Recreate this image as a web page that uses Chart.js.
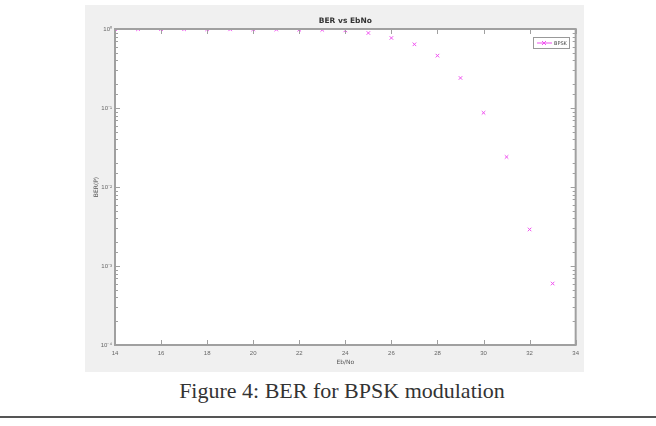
<!DOCTYPE html>
<html>
<head>
<meta charset="utf-8">
<script src="https://cdn.jsdelivr.net/npm/chart.js@4/dist/chart.umd.min.js"></script>
<style>
  body { margin: 0; background: #fff; width: 656px; height: 426px; position: relative; overflow: hidden; }
  #fig { position: absolute; left: 85px; top: 5px; width: 499px; height: 367px; background: #f0f0f0; }
  #caption { position: absolute; left: 0; width: 684px; top: 378px; text-align: center;
    font-family: "Liberation Serif", "DejaVu Serif", serif; font-size: 22px; color: #333; }
  #rule { position: absolute; left: 0; top: 416px; width: 656px; height: 2px; background: #555; }
</style>
</head>
<body>
<div id="fig"><canvas id="berChart" width="499" height="367"></canvas></div>
<div id="caption">Figure 4: BER for BPSK modulation</div>
<div id="rule"></div>
<script>
// Data grafik
const ebno = [14, 15, 16, 17, 18, 19, 20, 21, 22, 23, 24, 25, 26, 27, 28, 29, 30, 31, 32, 33];
const berBpsk = [0.995, 0.995, 0.994, 0.993, 0.992, 0.99, 0.988, 0.985, 0.98, 0.975, 0.96,
                 0.89, 0.77, 0.64, 0.46, 0.24, 0.087, 0.024, 0.0029, 0.0006];
const xTicks = [14, 16, 18, 20, 22, 24, 26, 28, 30, 32, 34];
const yTickLabels = { 1: '10⁰', 0.1: '10⁻¹', 0.01: '10⁻²', 0.001: '10⁻³', 0.0001: '10⁻⁴' };

const magenta = '#f050f0';
const axisGray = '#a0a0a0';

// kotak, tick ke dalam, judul, legend
const matlabLook = {
    id: 'matlabLook',
    beforeDraw(chart) {
        const { ctx, chartArea: a } = chart;
        ctx.save();
        ctx.fillStyle = '#fff';
        ctx.fillRect(a.left, a.top, a.right - a.left, a.bottom - a.top);
        ctx.restore();
    },
    afterDraw(chart) {
        const { ctx, chartArea: a, scales } = chart;
        ctx.save();
        ctx.strokeStyle = axisGray;
        ctx.lineWidth = 1;
        ctx.beginPath();
        scales.x.ticks.forEach(t => {
            const px = Math.round(scales.x.getPixelForValue(t.value)) + 0.5;
            ctx.moveTo(px, a.bottom); ctx.lineTo(px, a.bottom - 5);
            ctx.moveTo(px, a.top); ctx.lineTo(px, a.top + 5);
        });
        scales.y.ticks.forEach(t => {
            const py = Math.round(scales.y.getPixelForValue(t.value)) + 0.5;
            const major = yTickLabels[t.value] !== undefined;
            const len = major ? 5 : 3;
            ctx.moveTo(a.left, py); ctx.lineTo(a.left + len, py);
            ctx.moveTo(a.right, py); ctx.lineTo(a.right - len, py);
        });
        ctx.stroke();
        ctx.lineWidth = 2;
        ctx.strokeRect(a.left, a.top, a.right - a.left, a.bottom - a.top);

        // judul
        const cx = (a.left + a.right) / 2;
        ctx.fillStyle = '#333';
        ctx.font = 'bold 7.5px "DejaVu Sans", sans-serif';
        ctx.textAlign = 'center';
        ctx.textBaseline = 'middle';
        ctx.fillText('BER vs EbNo', cx, 16);
        // label sumbu
        ctx.font = '6px "DejaVu Sans", sans-serif';
        ctx.fillStyle = '#555';
        ctx.fillText('Eb/No', cx, 357);
        ctx.save();
        ctx.translate(11, 182);
        ctx.rotate(-Math.PI / 2);
        ctx.fillText('BER(P)', 0, 0);
        ctx.restore();

        // legend
        const lx = 448, ly = 32;
        ctx.fillStyle = '#fff';
        ctx.fillRect(lx, ly, 36, 11);
        ctx.strokeStyle = '#999';
        ctx.lineWidth = 1;
        ctx.strokeRect(lx + 0.5, ly + 0.5, 36, 11);
        ctx.strokeStyle = magenta;
        ctx.beginPath();
        ctx.moveTo(lx + 4, ly + 6); ctx.lineTo(lx + 19, ly + 6);
        ctx.moveTo(lx + 9, ly + 4); ctx.lineTo(lx + 13, ly + 8);
        ctx.moveTo(lx + 13, ly + 4); ctx.lineTo(lx + 9, ly + 8);
        ctx.stroke();
        ctx.fillStyle = '#444';
        ctx.font = '5px "DejaVu Sans", sans-serif';
        ctx.textAlign = 'left';
        ctx.fillText('BPSK', lx + 21, ly + 6.5);
        ctx.restore();
    }
};

const ctx = document.getElementById('berChart').getContext('2d');
const berChart = new Chart(ctx, {
    type: 'scatter',
    data: {
        datasets: [{
            label: 'BPSK',
            data: ebno.map((x, i) => ({ x: x, y: berBpsk[i] })),
            pointStyle: 'crossRot',
            pointRadius: 2.5,
            borderColor: magenta,
            backgroundColor: magenta,
            borderWidth: 1,
            showLine: false
        }]
    },
    options: {
        responsive: false,
        animation: false,
        layout: { padding: { top: 24, right: 7, left: 0, bottom: 0 } },
        plugins: {
            legend: { display: false },
            title: { display: false },
            tooltip: { enabled: false }
        },
        scales: {
            x: {
                type: 'linear',
                min: 14,
                max: 34,
                afterBuildTicks: s => { s.ticks = xTicks.map(v => ({ value: v })); },
                afterFit: s => { s.height = 27; },
                grid: { display: false, drawTicks: false, tickLength: 0 },
                border: { display: false },
                ticks: { font: { size: 6 }, color: '#666', padding: 5, maxRotation: 0 }
            },
            y: {
                type: 'logarithmic',
                min: 0.0001,
                max: 1,
                afterFit: s => { s.width = 30; },
                grid: { display: false, drawTicks: false, tickLength: 0 },
                border: { display: false },
                ticks: {
                    font: { size: 6 },
                    color: '#666',
                    padding: 3,
                    autoSkip: false,
                    callback: v => yTickLabels[v] || ''
                }
            }
        }
    },
    plugins: [matlabLook]
});
</script>
</body>
</html>
